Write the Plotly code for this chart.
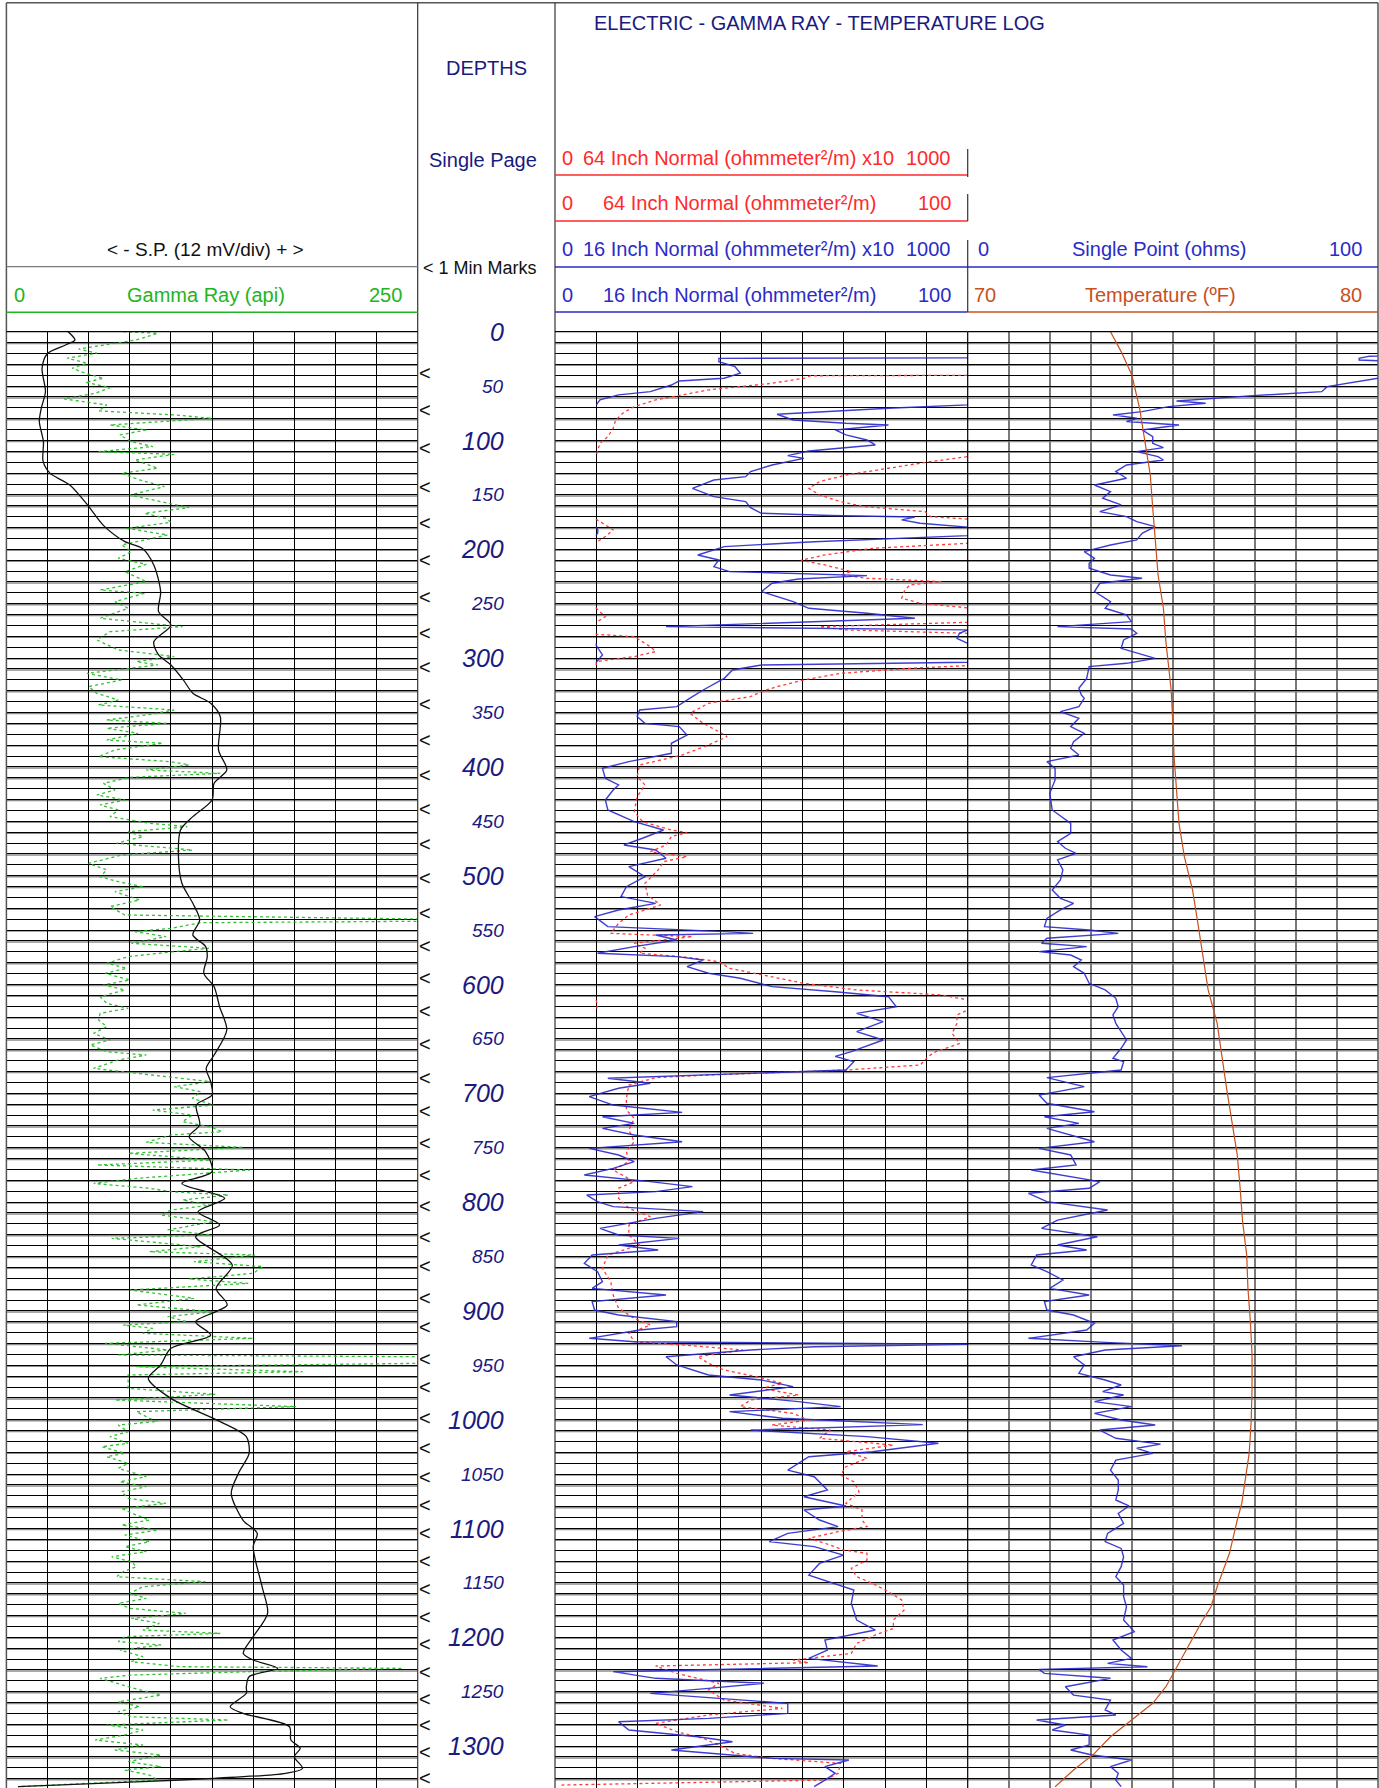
import plotly.graph_objects as go

depth_labels_ft = list(range(0, 1301, 50))
min_mark_depths_ft = [37.7, 72, 107, 142.5, 176, 210, 243.5, 277, 308.5, 342, 375, 407, 439, 471, 502,
                      534, 565, 594, 624, 655, 686, 716, 746, 775, 804, 832, 859, 888, 915, 944, 970,
                      998, 1026, 1053, 1078, 1104, 1130, 1156, 1181, 1206, 1232, 1257, 1281, 1305, 1329]

sp_depth_ft = [0, 3, 7.6, 12, 20, 33.6, 55, 70, 82.6, 101, 119, 130, 141, 159, 178, 193, 199, 214.4, 239,
               257.3, 269.5, 285, 297, 306.3, 320, 332.3, 341.5, 353.8, 384.5, 402.8, 415, 430.4, 445.7,
               458, 482.5, 507, 525.4, 540.7, 554.5, 565, 574.4, 589.7, 602, 620.4, 641.8, 664.8, 677,
               689.3, 701.6, 710.8, 729, 739.9, 753.6, 772, 782.8, 796.5, 808.8, 821, 831.8, 857.8, 879.3,
               894.6, 909.9, 922.2, 934.4, 949.7, 962, 980.4, 1001.8, 1015.6, 1031, 1049.3, 1067.7,
               1092.2, 1104.5, 1116.7, 1153.5, 1178, 1199.4, 1214.8, 1220.9, 1228.5, 1236.2, 1245.4,
               1251.5, 1263.8, 1269.9, 1282.2, 1294.4, 1302, 1309.7, 1320.5, 1325, 1329.6, 1332.7, 1337.3]
sp_mv = [18.0, 19.0, 20.0, 17.4, 12.0, 10.4, 11.4, 10.2, 9.6, 10.8, 10.7, 12.7, 18.5, 23.6, 28.3, 34.6,
         39.6, 43.0, 45.0, 44.4, 48.0, 43.0, 44.4, 48.0, 51.6, 54.4, 59.6, 62.4, 61.9, 64.3, 60.6, 60.0,
         54.4, 50.8, 50.2, 51.2, 54.4, 56.4, 54.4, 58.1, 58.6, 57.6, 60.6, 62.2, 64.3, 60.6, 58.3, 59.6,
         60.0, 55.4, 56.4, 53.3, 58.1, 60.0, 51.2, 63.7, 55.9, 62.2, 55.2, 65.9, 61.2, 64.4, 55.2, 59.6,
         48.0, 45.0, 41.4, 48.0, 62.4, 70.0, 70.8, 67.7, 65.6, 69.0, 73.2, 72.0, 74.6, 76.2, 72.0, 69.1,
         72.0, 79.2, 70.8, 70.0, 70.0, 65.3, 69.0, 82.6, 83.0, 85.7, 84.0, 86.4, 81.5, 60.6, 39.6, 3.4]

gr_depth_ft = [0.0, 1.5, 7.6, 15.9, 19.8, 24.4, 29.0, 33.6, 38.2, 42.8, 46.5, 51.4, 56.6, 61.8, 67.3, 72.8,
               76.5, 79.6, 85.7, 90.3, 94.9, 101.0, 105.6, 110.2, 112.7, 117.9, 125.5, 130.1, 136.3, 142.4,
               150.1, 156.2, 161.7, 166.9, 171.5, 175.2, 180.7, 186.8, 192.3, 196.0, 202.1, 208.3, 213.8,
               220.5, 229.7, 237.4, 240.4, 248.1, 254.2, 263.4, 271.1, 275.7, 283.3, 292.5, 298.6, 303.2,
               306.3, 314.0, 320.1, 326.2, 332.4, 338.5, 343.1, 347.7, 352.3, 356.9, 360.0, 364.5, 369.1,
               375.3, 378.3, 384.4, 390.6, 395.2, 398.2, 402.8, 405.9, 409.6, 415.1, 421.2, 425.8, 430.4,
               435.0, 439.6, 445.7, 451.9, 454.9, 459.5, 464.1, 470.2, 476.4, 481.0, 488.6, 494.7, 500.9,
               505.5, 510.1, 514.7, 522.3, 528.4, 536.1, 539.8, 541.0, 541.9, 543.2, 548.4, 551.4, 556.0,
               562.1, 566.7, 569.8, 574.4, 580.5, 585.1, 589.7, 595.8, 600.4, 605.0, 611.2, 617.3, 621.9,
               626.5, 632.6, 638.7, 644.9, 651.0, 655.6, 661.7, 664.8, 669.4, 677.1, 683.2, 689.3, 693.9,
               698.5, 704.6, 710.8, 715.4, 720.0, 726.1, 730.7, 735.3, 738.3, 745.1, 749.7, 755.2, 761.3,
               765.9, 770.5, 778.2, 782.8, 787.3, 790.4, 793.5, 798.1, 802.7, 807.3, 811.9, 818.0, 825.6,
               830.2, 833.3, 841.0, 845.6, 848.6, 854.8, 859.3, 865.5, 870.7, 874.7, 880.8, 888.4, 894.6,
               900.7, 905.3, 909.9, 913.0, 916.0, 920.6, 925.2, 929.8, 935.9, 940.5, 942.1, 945.0, 948.2,
               951.3, 955.9, 958.9, 963.5, 971.2, 976.7, 981.9, 988.0, 992.6, 998.7, 1001.5, 1004.9,
               1011.0, 1015.6, 1021.7, 1024.8, 1030.9, 1034.0, 1040.1, 1044.7, 1052.4, 1057.0, 1061.6,
               1066.2, 1072.3, 1076.9, 1081.5, 1087.6, 1092.2, 1096.8, 1101.4, 1106.0, 1112.1, 1116.7,
               1121.3, 1125.9, 1130.5, 1135.1, 1139.7, 1144.3, 1148.9, 1153.5, 1159.6, 1164.2, 1168.8,
               1173.4, 1178.0, 1182.6, 1187.2, 1193.3, 1196.4, 1199.4, 1204.0, 1207.1, 1211.7, 1217.8,
               1222.4, 1227.0, 1228.5, 1231.6, 1234.7, 1237.7, 1245.4, 1253.1, 1259.2, 1263.8, 1268.4,
               1273.0, 1276.0, 1280.6, 1285.2, 1289.8, 1294.4, 1299.0, 1303.6, 1308.2, 1314.3, 1318.9,
               1322.0, 1326.6, 1331.2, 1334.2, 1337.3]
gr_api = [71, 92, 79, 44, 55, 37, 49, 40, 48, 59, 48, 63, 54, 35, 61, 56,
          102, 125, 63, 85, 69, 76, 89, 56, 102, 78, 92, 70, 81, 96,
          75, 95, 111, 84, 97, 100, 73, 98, 81, 70, 76, 68, 85,
          72, 85, 57, 84, 66, 74, 57, 107, 63, 55, 68, 102, 79,
          92, 49, 70, 50, 55, 68, 56, 102, 85, 61, 98, 61, 80,
          61, 95, 66, 56, 100, 111, 85, 130, 75, 59, 66, 55, 72,
          57, 68, 63, 87, 110, 74, 83, 67, 113, 70, 50, 61, 57,
          68, 83, 66, 81, 63, 72, 250, 260, 250, 118, 100, 78, 97,
          76, 123, 102, 74, 61, 73, 60, 75, 59, 72, 57, 61, 74,
          57, 56, 61, 53, 63, 51, 61, 85, 68, 53, 89, 124, 102,
          118, 113, 126, 89, 113, 107, 124, 131, 100, 85, 144, 74, 126,
          55, 148, 79, 53, 87, 100, 135, 107, 124, 100, 94, 126, 98,
          124, 64, 118, 87, 151, 114, 156, 150, 111, 147, 75, 114, 79,
          126, 98, 110, 71, 89, 83, 150, 60, 98, 68, 250, 260, 250,
          79, 180, 74, 74, 74, 127, 66, 176, 79, 87, 92, 68,
          74, 63, 74, 58, 72, 61, 74, 68, 85, 69, 85,
          70, 74, 97, 70, 79, 87, 70, 92, 72, 87, 72,
          85, 64, 76, 79, 71, 67, 121, 83, 75, 85, 68,
          75, 109, 76, 93, 83, 130, 72, 68, 94, 69, 83,
          76, 105, 241, 148, 76, 57, 74, 94, 68, 81, 68,
          76, 135, 61, 83, 72, 54, 83, 66, 94, 74, 94,
          72, 87, 92, 50, 7]

n16_depth_ft = [24.0, 24.5, 27.5, 32.1, 38.2, 42.8, 45.3, 49.0, 55.1, 58.1, 62.7, 66.7,
                67.3, 70.4, 75.9, 81.1, 84.2, 85.7, 90.3, 94.9, 99.5, 104.1, 107.8, 109.6, 113.9, 116.4,
                122.5, 128.6, 133.2, 136.3, 144.0, 151.6, 156.2, 161.7, 166.9, 169.0, 170.3, 173.0, 176.1,
                179.2, 179.6, 182.5, 185.5, 187.0, 187.4, 193.0, 197.5, 205.2, 209.8, 215.9, 220.5, 224.2,
                227.3, 231.2, 238.9, 248.1, 254.2, 258.8, 263.4, 271.1, 274.1, 277.2, 281.8, 286.4, 288.5,
                297.1, 303.2, 303.8, 306.3, 310.9, 318.6, 326.2, 329.3, 335.4, 344.6, 347.7, 353.8, 360.0,
                363.0, 370.7, 378.3, 387.5, 395.2, 401.3, 410.5, 416.6, 421.2, 430.4, 439.6, 450.3, 458.0,
                465.6, 471.8, 476.4, 484.0, 491.7, 500.9, 510.1, 519.2, 525.4, 531.5, 537.6, 546.8, 551.4,
                553.0, 554.5, 559.1, 565.2, 571.3, 574.4, 577.5, 583.6, 589.7, 594.3, 602.0, 606.6, 611.2,
                620.4, 626.5, 634.1, 643.3, 651.0, 661.7, 666.0, 670.9, 678.6, 683.2, 686.2, 690.8, 695.4,
                703.1, 710.8, 717.5, 721.5, 727.6, 732.2, 738.3, 744.5, 750.6, 756.7, 762.8, 769.0, 775.1,
                781.2, 785.8, 790.4, 793.5, 799.6, 804.2, 808.8, 815.0, 824.1, 830.2, 833.3, 839.4, 844.0,
                848.6, 856.3, 863.9, 873.1, 879.3, 885.4, 891.5, 899.2, 903.8, 909.9, 914.5, 917.6, 925.2,
                928.3, 930.7, 932.9, 935.9, 942.1, 949.7, 958.9, 963.5, 969.6, 977.3, 983.4, 988.0, 992.6,
                998.7, 1004.5, 1009.5, 1015.6, 1021.7, 1029.4, 1034.0, 1046.3, 1052.4, 1064.6, 1070.8,
                1079.3, 1083.0, 1092.2, 1098.3, 1104.5, 1112.1, 1116.7, 1124.4, 1132.1, 1142.8, 1150.4,
                1156.5, 1168.8, 1184.1, 1193.3, 1202.5, 1211.7, 1219.4, 1226.4, 1231.6, 1237.7, 1242.3,
                1246.9, 1251.5, 1260.7, 1269.9, 1274.5, 1277.6, 1285.2, 1291.4, 1296.0, 1303.6, 1311.3,
                1312.8, 1318.9, 1325.0, 1331.2, 1337.3]
n16_ohmm = [1100, 397, 397, 436, 449, 410, 301, 282, 231, 154, 109, 100,
            100, 80.8, 53.8, 57.7, 70.5, 80.8, 67.9, 70.5, 75.6, 77.6, 66.7, 61.5, 56.4, 60.3,
            52.6, 47.4, 46.2, 38.5, 33.3, 38.5, 46.2, 47.4, 50.0, 66.7, 87.2, 84.0, 88.5,
            100, 100, 104, 103, 100, 100, 62.8, 41.0, 34.6, 39.7, 38.5, 42.3, 75.6,
            59.0, 52.6, 50.0, 57.7, 61.5, 75.6, 87.2, 26.9, 100, 98.0, 97.4, 100, 100,
            115, 100, 100, 50.0, 43.0, 41.0, 37.2, 35.9, 33.3, 29.5, 20.5, 19.9, 21.8,
            30.1, 32.0, 28.2, 28.2, 17.9, 11.5, 12.2, 15.4, 14.1, 12.2, 12.8, 19.2, 26.3,
            21.2, 16.7, 24.4, 26.9, 17.9, 21.8, 17.3, 16.0, 24.4, 15.4, 9.6, 12.8, 41.0,
            48.0, 24.4, 29.5, 19.2, 10.3, 29.5, 35.9, 32.0, 37.2, 44.9, 52.6, 67.9, 80.8,
            82.7, 73.1, 79.5, 73.1, 79.5, 71.8, 67.9, 72.4, 70.5, 37.2, 12.8, 23.1, 15.4,
            8.3, 14.1, 30.8, 11.5, 19.2, 11.5, 19.2, 30.8, 8.3, 15.4, 19.2, 14.1, 7.1,
            23.1, 33.3, 24.4, 7.7, 10.3, 14.1, 35.9, 24.4, 10.9, 15.4, 30.1, 15.4, 25.0,
            9.0, 7.1, 10.3, 11.5, 9.0, 26.9, 9.0, 9.6, 15.4, 29.5, 29.5, 20.5, 8.3,
            19.2, 100, 62.8, 47.4, 26.9, 29.5, 37.2, 50.0, 57.7, 42.3, 59.0, 69.2, 42.3,
            55.1, 89.1, 47.4, 75.6, 92.9, 76.9, 61.5, 56.4, 62.8, 66.0, 60.3,
            70.5, 60.3, 64.1, 68.6, 56.4, 51.9, 62.8, 69.9, 64.1, 61.5, 67.3,
            72.4, 71.8, 73.1, 77.6, 65.4, 66.0, 61.5, 78.2, 14.1, 24.4, 50.6,
            37.2, 23.1, 56.4, 56.4, 37.2, 15.4, 17.9, 34.6, 43.0, 28.2, 52.6,
            71.2, 65.4, 67.9, 65.4, 62.8]

n64_depth_ft = [40.0, 40.5, 42.8, 47.4, 53.5, 58.1, 62.7, 68.9, 74.1, 81.1, 88.8, 96.4, 102.6, 113.3,
                114.8, 119.4, 125.5, 131.7, 137.8, 143.9, 150.1, 156.2, 160.8, 165.4, 170.0, 172.1,
                172.4, 177.6, 182.2, 188.3, 193.6, 194.5, 199.1, 205.2, 210.1, 214.4, 220.5, 223.6, 226.6,
                229.7, 232.8, 238.9, 245.0, 249.6, 253.6, 254.2, 261.9, 266.5, 267.1, 271.1, 274.1, 277.2,
                278.1, 280.3, 289.5, 294.0, 298.6, 303.2, 306.9, 309.4, 314.0, 320.1, 326.2, 330.8, 335.4,
                341.5, 350.7, 360.0, 367.6, 372.2, 379.9, 389.1, 398.2, 409.0, 416.6, 427.3, 441.1, 450.3,
                458.0, 460.4, 464.1, 471.8, 477.9, 482.5, 487.1, 494.7, 507.0, 517.7, 526.9, 536.1, 543.8,
                553.0, 556.0, 562.1, 566.7, 571.3, 574.4, 579.0, 585.1, 591.2, 598.9, 605.0, 609.6, 614.2,
                614.8, 618.8, 622.8, 623.4, 628.0, 635.7, 644.9, 654.1, 661.7, 666.0, 674.0, 678.6, 683.2,
                685.6, 692.4, 704.6, 715.4, 723.0, 733.7, 744.5, 753.6, 762.8, 770.5, 781.2, 787.3, 796.5,
                805.7, 813.4, 821.1, 830.2, 839.4, 848.6, 860.9, 873.1, 885.4, 897.6, 906.8, 913.0, 920.6,
                928.3, 931.3, 935.9, 942.1, 948.2, 954.3, 960.4, 966.6, 971.2, 977.3, 981.9, 988.0, 994.2,
                1000.3, 1004.9, 1009.5, 1017.1, 1023.3, 1029.4, 1035.5, 1043.2, 1050.9, 1057.0, 1066.2,
                1076.9, 1083.0, 1092.2, 1098.3, 1102.9, 1109.0, 1115.2, 1119.8, 1122.8, 1129.0, 1136.6,
                1144.3, 1150.4, 1158.1, 1165.7, 1175.0, 1184.1, 1191.8, 1197.9, 1205.6, 1214.8, 1220.9,
                1223.3, 1226.4, 1233.2, 1242.3, 1248.5, 1257.7, 1265.3, 1271.4, 1279.1, 1286.8, 1292.9,
                1299.0, 1306.7, 1311.3, 1315.9, 1325.0, 1331.2, 1335.8]
n64_ohmm = [1100, 620, 603, 526, 372, 308, 244, 192, 167, 147, 141, 128, 109, 100,
            100, 91.0, 80.8, 70.5, 64.1, 61.5, 64.1, 69.2, 75.0, 89.7, 91.0, 100,
            100, 122, 141, 122, 100, 100, 76.9, 65.4, 59.6, 65.4, 71.8, 69.2, 75.6,
            93.6, 85.9, 84.6, 84.0, 88.5, 100, 100, 122, 100, 100, 64.1, 70.5, 100,
            100, 192, 231, 244, 192, 100, 100, 85.9, 69.2, 60.3, 53.8, 50.0, 47.4,
            37.2, 32.7, 35.9, 39.7, 41.7, 37.2, 30.8, 20.5, 19.9, 21.8, 19.9, 19.2, 21.2,
            28.2, 32.0, 28.2, 26.9, 23.1, 32.0, 26.3, 25.0, 21.8, 22.4, 25.6, 17.9, 15.4,
            13.5, 33.3, 19.2, 21.8, 20.5, 30.8, 39.7, 42.3, 50.0, 60.3, 73.1, 93.6, 100,
            100, 103, 100, 100, 97.4, 97.4, 96.2, 98.1, 92.3, 90.5, 88.5, 70.5, 37.2,
            24.4, 17.9, 17.3, 17.3, 19.2, 17.9, 19.2, 17.3, 17.9, 14.1, 19.2, 15.4, 15.4,
            17.9, 23.1, 17.9, 17.9, 20.5, 12.8, 11.5, 13.5, 14.1, 15.4, 19.2, 23.1, 17.9,
            19.2, 30.8, 45.5, 34.6, 37.2, 41.0, 48.7, 55.1, 50.0, 59.0, 47.4, 44.9, 57.7,
            61.5, 52.6, 66.7, 64.1, 82.0, 70.5, 75.6, 70.5, 69.2, 72.4, 73.7,
            70.5, 74.4, 74.4, 75.6, 68.6, 61.5, 66.7, 69.9, 75.6, 75.6, 71.8,
            73.1, 76.9, 80.8, 84.0, 84.6, 82.0, 82.0, 77.6, 73.1, 71.8, 57.7,
            61.5, 24.4, 29.5, 39.7, 37.2, 41.0, 55.1, 37.2, 24.4, 29.5, 35.9,
            39.7, 43.6, 52.6, 69.2, 68.6, 65.4, 1.3]

spr_depth_ft = [0, 21.5, 22.5, 24.4, 26.0, 27.5, 42.0, 42.8, 50.5, 55.1, 58.8, 61.2, 63.7, 65.8, 68.9,
                73.5, 76.5, 79.6, 82.6, 85.7, 90.3, 96.4, 102.6, 106.5, 110.2, 114.8, 117.9, 122.5, 128.6,
                134.7, 140.9, 147.0, 153.1, 159.2, 165.4, 170.0, 174.6, 179.2, 185.3, 191.4, 196.0, 202.1,
                208.3, 212.9, 217.4, 223.6, 226.6, 231.2, 238.9, 248.1, 254.2, 260.3, 266.5, 271.1, 273.2,
                277.2, 283.3, 291.0, 300.2, 304.8, 307.8, 318.6, 327.7, 333.9, 337.0, 344.6, 349.2, 355.3,
                363.0, 369.1, 376.8, 382.9, 389.1, 395.2, 401.3, 412.0, 424.3, 439.6, 451.9, 461.1, 468.7,
                474.8, 479.4, 485.5, 494.7, 503.9, 513.1, 520.8, 525.4, 531.5, 539.2, 546.8, 549.9, 553.0,
                557.5, 562.1, 565.2, 569.8, 572.9, 577.5, 583.6, 589.7, 598.9, 605.0, 612.7, 620.4, 628.0,
                635.7, 643.3, 651.0, 658.6, 667.8, 670.9, 678.6, 685.6, 689.3, 693.9, 698.5, 701.6, 709.2,
                716.9, 721.5, 727.6, 732.2, 738.3, 744.5, 750.6, 756.7, 765.9, 770.5, 781.2, 787.3, 791.9,
                799.6, 807.3, 816.5, 824.1, 831.8, 839.4, 844.0, 848.6, 857.8, 863.9, 871.6, 879.3, 885.4,
                891.5, 899.2, 903.8, 911.4, 917.6, 925.2, 928.9, 932.0, 935.9, 942.1, 949.7, 957.4, 963.5,
                968.1, 974.2, 977.3, 983.4, 988.0, 994.2, 1000.3, 1004.9, 1009.5, 1017.1, 1022.4, 1026.3,
                1031.0, 1037.1, 1046.3, 1055.4, 1064.6, 1073.8, 1079.3, 1086.1, 1095.3, 1104.5, 1112.1,
                1118.3, 1125.9, 1135.1, 1144.3, 1152.0, 1162.7, 1171.9, 1184.1, 1194.8, 1202.5, 1211.7,
                1219.4, 1224.0, 1227.0, 1229.5, 1233.2, 1237.7, 1245.4, 1253.1, 1257.7, 1266.8, 1271.4,
                1276.0, 1280.6, 1285.2, 1289.8, 1299.0, 1303.6, 1308.2, 1312.8, 1318.9, 1325.0, 1331.2,
                1337.3]
spr_ohms = [130, 130, 98, 95.4, 95.4, 105, 105, 100, 87.6, 86.3, 69.6, 59.3, 50.9, 58.0, 49.0,
            42.5, 35.4, 41.2, 38.7, 51.5, 42.5, 45.1, 45.1, 47.7, 41.2, 46.4, 47.7, 38.7, 36.1,
            38.7, 30.9, 34.8, 32.9, 37.4, 32.2, 38.7, 41.2, 45.7, 42.5, 41.2, 34.8, 28.4,
            30.9, 29.6, 29.6, 34.8, 42.5, 32.2, 30.9, 34.8, 33.5, 38.7, 39.9, 21.9, 39.9,
            41.2, 38.0, 37.4, 45.7, 38.7, 29.6, 29.0, 27.1, 27.7, 28.4, 27.1, 22.6, 27.1,
            25.1, 28.4, 25.8, 25.1, 27.1, 19.3, 21.3, 21.3, 20.0, 20.6, 25.1, 25.1, 21.9,
            23.8, 26.4, 21.9, 23.2, 22.6, 20.6, 22.6, 25.8, 22.6, 19.3, 18.7, 29.6, 36.7,
            19.3, 18.0, 29.0, 17.4, 25.1, 27.7, 25.8, 28.4, 29.6, 33.5, 36.1, 36.7, 35.4,
            36.1, 37.4, 38.7, 37.4, 35.4, 38.0, 37.4, 19.3, 23.2, 28.4, 21.9, 17.4, 19.3,
            30.9, 18.7, 27.1, 19.3, 25.1, 30.9, 17.4, 25.1, 26.4, 15.5, 32.2, 29.6, 14.8,
            19.3, 34.1, 21.9, 18.0, 31.6, 21.9, 29.0, 16.8, 15.5, 19.3, 23.2, 20.0, 29.6,
            18.7, 19.3, 25.8, 30.9, 29.0, 14.8, 33.5, 52.2, 33.5, 25.8, 28.4, 27.1, 33.5,
            37.4, 32.9, 38.0, 30.9, 39.9, 30.9, 37.4, 45.7, 32.2, 36.1, 47.0, 41.2,
            45.1, 36.1, 34.8, 36.7, 36.7, 36.1, 39.3, 36.7, 38.0, 34.1, 33.5,
            37.4, 38.0, 37.4, 36.1, 38.0, 38.0, 38.7, 38.0, 40.6, 35.4, 37.4,
            39.9, 34.1, 43.8, 17.4, 18.7, 34.8, 23.8, 25.8, 34.8, 33.5, 36.1,
            16.8, 23.8, 20.6, 29.6, 29.6, 25.1, 30.3, 39.9, 34.8, 36.7, 36.1,
            37.4]

temp_depth_ft = [0, 18.3, 39.8, 70.4, 101, 131.7, 162.3, 193, 223.6, 254.2, 284.9, 315.5, 330, 360, 390.6,
                 421.2, 451.9, 482.5, 513.1, 543.8, 574.4, 605, 635.7, 666, 695.4, 726.1, 756.7, 787.3,
                 818, 848.6, 879.3, 909.9, 940.5, 971.2, 1001, 1031, 1061.6, 1076.9, 1092.2, 1122.8,
                 1153.5, 1171.9, 1184.1, 1214.8, 1245.4, 1260.7, 1276, 1291.4, 1306.7, 1322, 1337.3]
temp_f = [73.48, 73.74, 74.0, 74.19, 74.32, 74.45, 74.51, 74.57, 74.64, 74.77, 74.83, 74.92, 74.96, 75.0,
          75.03, 75.09, 75.15, 75.28, 75.48, 75.61, 75.73, 75.86, 76.08, 76.19, 76.31, 76.44, 76.57, 76.64,
          76.7, 76.8, 76.83, 76.89, 76.93, 76.93, 76.91, 76.86, 76.73, 76.68, 76.57, 76.38,
          76.08, 75.93, 75.73, 75.28, 74.83, 74.51, 73.99, 73.48, 73.09, 72.58, 72.13]

# ---------------- geometry / style ----------------
W, H = 1379, 1788
GRID_TOP = 331.7          # px from top where depth 0 sits
PX_PER_FT = 1.088
DEPTH_MAX = (H - GRID_TOP) / PX_PER_FT
T1 = (6.4, 417.7)
T2 = (555.0, 967.7)
T3 = (967.7, 1378.0)
FONT = "Liberation Sans, Arial, sans-serif"
NAVY = "#1a1a80"
RED = "#ff2a2a"
BLUE = "#2b2bc8"
ORANGE = "#c8501e"
GREEN = "#22b522"


def fx(x):
    return x / W


def fy(y):
    return 1 - y / H


fig = go.Figure()

# Gamma ray / SP (track 1)
fig.add_trace(go.Scatter(x=gr_api, y=gr_depth_ft, xaxis="x", yaxis="y", mode="lines",
                         line=dict(color="rgba(30,185,30,0.9)", width=1.3, dash="dot"), showlegend=False))
fig.add_trace(go.Scatter(x=sp_mv, y=sp_depth_ft, xaxis="x2", yaxis="y", mode="lines",
                         line=dict(color="#111111", width=1.3, shape="spline", smoothing=0.8),
                         showlegend=False))

# resistivity (track 2): main scale 0-100 and backup x10 scale 0-1000
n64_x10 = [v if v >= 100 else None for v in n64_ohmm]
n16_x10 = [v if v >= 100 else None for v in n16_ohmm]
red_line = dict(color="rgba(255,50,50,0.95)", width=1.3, dash="dot")
blue_line = dict(color="rgba(40,40,205,0.9)", width=1.4)
fig.add_trace(go.Scatter(x=n64_ohmm, y=n64_depth_ft, xaxis="x3", yaxis="y2", mode="lines",
                         line=red_line, showlegend=False))
fig.add_trace(go.Scatter(x=n64_x10, y=n64_depth_ft, xaxis="x4", yaxis="y2", mode="lines",
                         line=red_line, showlegend=False))
fig.add_trace(go.Scatter(x=n16_ohmm, y=n16_depth_ft, xaxis="x3", yaxis="y2", mode="lines",
                         line=blue_line, showlegend=False))
fig.add_trace(go.Scatter(x=n16_x10, y=n16_depth_ft, xaxis="x4", yaxis="y2", mode="lines",
                         line=blue_line, showlegend=False))

# single point / temperature (track 3)
fig.add_trace(go.Scatter(x=spr_ohms, y=spr_depth_ft, xaxis="x5", yaxis="y3", mode="lines",
                         line=blue_line, showlegend=False))
fig.add_trace(go.Scatter(x=temp_f, y=temp_depth_ft, xaxis="x6", yaxis="y3", mode="lines",
                         line=dict(color=ORANGE, width=1.2), showlegend=False))

ydom = [0, fy(GRID_TOP)]
yax = dict(domain=ydom, range=[DEPTH_MAX, 0], tick0=0, dtick=10, showgrid=True, gridcolor="#000000",
           gridwidth=1, showticklabels=False, ticks="", zeroline=False, showline=False, fixedrange=True)
xbase = dict(showticklabels=False, ticks="", zeroline=False, showline=False, fixedrange=True)

fig.update_layout(
    width=W, height=H, margin=dict(l=0, r=0, t=0, b=0), autosize=False,
    paper_bgcolor="white", plot_bgcolor="rgba(0,0,0,0)",
    font=dict(family=FONT),
    xaxis=dict(domain=[fx(T1[0]), fx(T1[1])], range=[0, 250], tick0=0, dtick=25, showgrid=True,
               gridcolor="#000000", gridwidth=1, anchor="y", **xbase),
    xaxis2=dict(overlaying="x", range=[0, 120], visible=False, anchor="y", fixedrange=True),
    xaxis3=dict(domain=[fx(T2[0]), fx(T2[1])], range=[0, 100], tick0=0, dtick=10, showgrid=True,
                gridcolor="#000000", gridwidth=1, anchor="y2", **xbase),
    xaxis4=dict(overlaying="x3", range=[0, 1000], visible=False, anchor="y2", fixedrange=True),
    xaxis5=dict(domain=[fx(T3[0]), fx(T3[1])], range=[0, 100], tick0=0, dtick=10, showgrid=True,
                gridcolor="#7a7a7a", gridwidth=2, anchor="y3", **xbase),
    xaxis6=dict(overlaying="x5", range=[70, 80], visible=False, anchor="y3", fixedrange=True),
    yaxis=dict(anchor="x", **yax),
    yaxis2=dict(anchor="x3", **yax),
    yaxis3=dict(anchor="x5", **yax),
)

shapes = []


def hline(y, x0, x1, color="#000000", width=1, yref="paper", layer="above"):
    yy = fy(y) if yref == "paper" else y
    shapes.append(dict(type="line", xref="paper", yref=yref, x0=fx(x0), x1=fx(x1), y0=yy, y1=yy,
                       line=dict(color=color, width=width), layer=layer))


def vline(x, y0, y1, color="#000000", width=1):
    shapes.append(dict(type="line", xref="paper", yref="paper", x0=fx(x), x1=fx(x), y0=fy(y0), y1=fy(y1),
                       line=dict(color=color, width=width)))


# faint doubling lines beneath the 10 ft grid (texture of the scanned log)
k_prev = 0
for k in range(1, int(DEPTH_MAX // 10) + 1):
    step = int(0.6 * k + 0.5)
    if step != k_prev:
        for t in (T1, T2, T3):
            hline(k * 10 + 0.95, t[0], t[1], color="#8c8c8c", width=1.4, yref="y", layer="below")
    k_prev = step

# frame
hline(2.7, T1[0], T3[1], color="#555555", width=1.5)
vline(T1[0], 2.7, H, color="#555555", width=1.5)
vline(T1[1], 2.7, H, color="#333333", width=1.2)
vline(T2[0], 2.7, H, color="#333333", width=1.2)
vline(T3[1], 2.7, H, color="#555555", width=1.5)
vline(T2[1], GRID_TOP, H, color="#000000", width=1.2)
for t in (T1, T2, T3):
    hline(GRID_TOP, t[0], t[1], color="#000000", width=1.2)
# header rules
hline(266.7, T1[0], T1[1], color="#7a7a7a", width=1.2)
hline(312.3, T1[0], T1[1], color=GREEN, width=1.5)
hline(175, T2[0], T2[1], color=RED, width=1.5)
hline(221, T2[0], T2[1], color=RED, width=1.5)
hline(267, T2[0], T3[1], color=BLUE, width=1.5)
hline(312, T2[0], T2[1], color=BLUE, width=1.5)
hline(312, T2[1], T3[1], color=ORANGE, width=1.5)
vline(T2[1], 149, 177, color="#333333", width=1.2)
vline(T2[1], 194, 221, color="#333333", width=1.2)
vline(T2[1], 240, 312, color="#333333", width=1.2)

annotations = []


def text(s, x, y, color, size, xanchor="center"):
    annotations.append(dict(text=s, x=fx(x), y=fy(y), xref="paper", yref="paper", xanchor=xanchor,
                            yanchor="middle", showarrow=False, font=dict(family=FONT, size=size, color=color)))


text("ELECTRIC - GAMMA RAY - TEMPERATURE LOG", 592, 22.7, NAVY, 20, "left")
text("DEPTHS", 486, 68, NAVY, 20)
text("Single Page", 483, 160, NAVY, 20)
text("&lt; 1 Min Marks", 421, 268, "#111111", 18, "left")
text("&lt; - S.P. (12 mV/div) + &gt;", 205.5, 249, "#111111", 19)
text("0", 12, 295, GREEN, 20, "left")
text("Gamma Ray (api)", 205.5, 295, GREEN, 20)
text("250", 404, 295, GREEN, 20, "right")

text("0", 560, 158, RED, 20, "left")
text("64 Inch Normal (ohmmeter²/m) x10", 581, 158, RED, 20, "left")
text("1000", 953, 158, RED, 20, "right")
text("0", 560, 203, RED, 20, "left")
text("64 Inch Normal (ohmmeter²/m)", 601, 203, RED, 20, "left")
text("100", 953, 203, RED, 20, "right")
text("0", 560, 249, BLUE, 20, "left")
text("16 Inch Normal (ohmmeter²/m) x10", 581, 249, BLUE, 20, "left")
text("1000", 953, 249, BLUE, 20, "right")
text("0", 560, 295, BLUE, 20, "left")
text("16 Inch Normal (ohmmeter²/m)", 601, 295, BLUE, 20, "left")
text("100", 953, 295, BLUE, 20, "right")

text("0", 976, 249, BLUE, 20, "left")
text("Single Point (ohms)", 1159, 249, BLUE, 20)
text("100", 1364, 249, BLUE, 20, "right")
text("70", 972, 295, ORANGE, 20, "left")
text("Temperature (ºF)", 1160, 295, ORANGE, 20)
text("80", 1364, 295, ORANGE, 20, "right")

for d in depth_labels_ft:
    big = d % 100 == 0
    text("<i>%d</i>" % d, 506, GRID_TOP + d * PX_PER_FT, NAVY, 25 if big else 19, "right")

for d in min_mark_depths_ft:
    text("&lt;", 416.5, GRID_TOP + d * PX_PER_FT, "#111111", 20, "left")

fig.update_layout(shapes=shapes, annotations=annotations)

fig.write_html("out.html", config={"displayModeBar": False},
               post_script="document.body.style.margin='0';")
